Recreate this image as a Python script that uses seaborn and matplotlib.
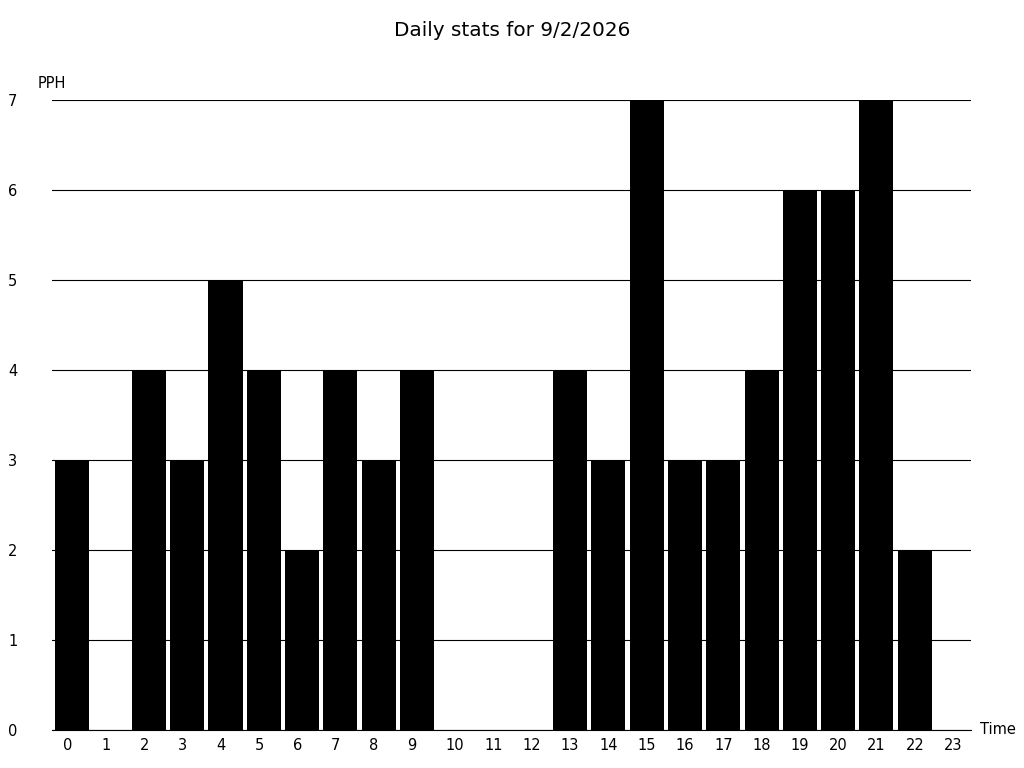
import numpy as np
import pandas as pd
import seaborn as sns
import matplotlib.pyplot as plt

hours = list(range(24))
pph = [3, 0, 4, 3, 5, 4, 2, 4, 3, 4, 0, 0, 0, 4, 3, 7, 3, 3, 4, 6, 6, 7, 2, 0]

data = pd.DataFrame({"hour": hours, "pph": pph})

plt.rcParams['font.family'] = ['DejaVu Sans']
plt.rcParams['text.color'] = 'black'
plt.rcParams['xtick.color'] = 'black'
plt.rcParams['ytick.color'] = 'black'

fig = plt.figure(figsize=(10.24, 7.68), dpi=100)
ax = fig.add_axes([52 / 1024, 1 - 730 / 768, 919 / 1024, 630 / 768])

sns.barplot(data=data, x="hour", y="pph", color="black", saturation=1,
            width=0.89, linewidth=0, ax=ax)
for p in ax.patches:
    p.set_x(p.get_x() + 0.03)

ax.set_xlim(-0.5, 23.5)
ax.set_ylim(0, 7)
# labels sit left-aligned a little inside each hour slot
ax.set_xticks(np.array(hours) - 0.5 + 11 / 38.3)
ax.set_xticklabels([str(h) for h in hours], fontsize=10.5, ha="left")
ax.set_yticks(range(8))
ax.set_yticklabels([str(v) for v in range(8)], fontsize=10.5)
ax.tick_params(axis="x", length=0, pad=6)
ax.tick_params(axis="y", length=0, pad=25)

ax.set_axisbelow(True)
ax.yaxis.grid(True, color="black", linewidth=0.8)
ax.xaxis.grid(False)
for s in ["top", "right", "left"]:
    ax.spines[s].set_visible(False)
ax.spines["bottom"].set_color("black")
ax.spines["bottom"].set_linewidth(0.8)

ax.set_xlabel("")
ax.set_ylabel("")
fig.text(52 / 1024, 1 - 84 / 768, "PPH", ha="center", va="center", fontsize=10.5)
fig.text(998 / 1024, 1 - 730 / 768, "Time", ha="center", va="center", fontsize=10.5)
fig.text(0.5, 1 - 30 / 768, "Daily stats for 9/2/2026", ha="center", va="center", fontsize=14.4)

fig.savefig("out.png", dpi=100)
